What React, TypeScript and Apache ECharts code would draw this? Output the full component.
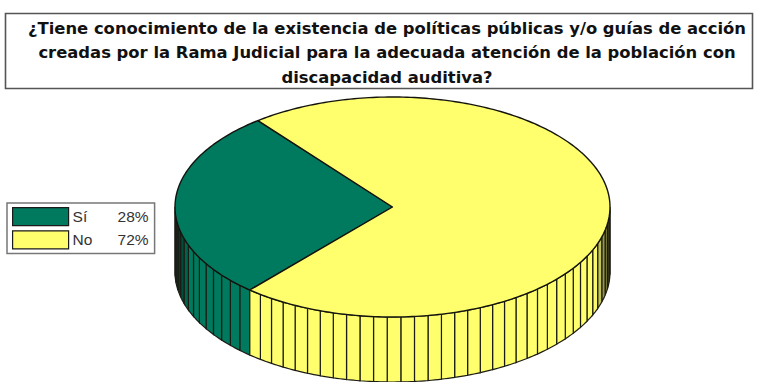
import React, { useEffect, useRef } from "react";
import * as echarts from "echarts";

const categories = ["Sí", "No"];
const shares = [28, 72];
const colors = ["#007A5E", "#FFFF6E"];
const titleLines = [
  "¿Tiene conocimiento de la existencia de políticas públicas y/o guías de acción",
  "creadas por la Rama Judicial para la adecuada atención de la población con",
  "discapacidad auditiva?",
];

// Ellipse of the pie's upper face and the height of its rim.
const CX = 392.5;
const CY = 207;
const RX = 217.5;
const RY = 110;
const DEPTH = 65;
const START_DEG = 131;
const DEG_PER_UNIT = 3.6;

const point = (deg: number, drop = 0): number[] => {
  const r = (deg * Math.PI) / 180;
  return [CX + RX * Math.cos(r), CY + RY * Math.sin(r) + drop];
};

// Darkens a hex colour towards black by the factor k (0..1).
const shade = (hex: string, k: number): string => {
  const n = parseInt(hex.slice(1), 16);
  const ch = (v: number) => Math.round(v * (1 - k));
  return `rgb(${ch((n >> 16) & 255)},${ch((n >> 8) & 255)},${ch(n & 255)})`;
};

// The rim is only seen on the front half of the ellipse, so the angle is
// folded to 0..360 and clipped to 0..180 before a strip is drawn.
const rimStrips = (fromDeg: number, toDeg: number, color: string) => {
  const out: any[] = [];
  const step = DEG_PER_UNIT;
  for (let a = fromDeg; a < toDeg - 1e-6; a += step) {
    const b = Math.min(a + step, toDeg);
    for (const offset of [0, -360]) {
      const lo = Math.max(a + offset, 0);
      const hi = Math.min(b + offset, 180);
      if (hi <= lo) continue;
      const mid = ((lo + hi) / 2) * (Math.PI / 180);
      const edge = Math.abs(Math.cos(mid));
      const k = edge > 0.93 ? Math.min(0.7, ((edge - 0.93) / 0.07) * 0.7) : 0;
      const pts: number[][] = [];
      for (let d = lo; d <= hi + 1e-6; d += (hi - lo) / 4) pts.push(point(d));
      for (let d = hi; d >= lo - 1e-6; d -= (hi - lo) / 4) pts.push(point(d, DEPTH));
      out.push({
        type: "polygon",
        shape: { points: pts },
        style: { fill: shade(color, k), stroke: "#1c1c14", lineWidth: 1.2 },
      });
    }
  }
  return out;
};

const renderSlice = (color: string) => (_params: any, api: any) => {
  const value = api.value(0);
  const before = api.value(1);
  const from = START_DEG + before * DEG_PER_UNIT;
  const to = from + value * DEG_PER_UNIT;
  const face: number[][] = [[CX, CY]];
  for (let d = from; d < to; d += 1) face.push(point(d));
  face.push(point(to));
  return {
    type: "group",
    children: [
      ...rimStrips(from, to, color),
      {
        type: "polygon",
        shape: { points: face },
        style: { fill: color, stroke: "#14140e", lineWidth: 1.4, lineJoin: "round" },
      },
    ],
  };
};

export default function App() {
  const ref = useRef<HTMLDivElement>(null);
  useEffect(() => {
    document.body.style.margin = "0";
    const chart = echarts.init(ref.current!, undefined, { renderer: "svg" });
    let running = 0;
    const series = categories.map((name, i) => {
      const data = [[shares[i], running]];
      running += shares[i];
      return {
        type: "custom",
        name,
        coordinateSystem: "none",
        silent: true,
        itemStyle: { color: colors[i] },
        renderItem: renderSlice(colors[i]),
        data,
      };
    });
    chart.setOption({
      animation: false,
      backgroundColor: "#ffffff",
      title: {
        text: titleLines.join("\n"),
        left: 382,
        top: 11,
        textAlign: "center",
        textStyle: {
          fontFamily: "'DejaVu Sans'",
          fontWeight: "bold",
          fontSize: 16.4,
          lineHeight: 24.5,
          color: "#111111",
        },
      },
      graphic: [
        {
          type: "rect",
          z: -1,
          shape: { x: 5.5, y: 13.5, width: 747, height: 75 },
          style: { fill: "#ffffff", stroke: "#555555", lineWidth: 1.6 },
        },
      ],
      legend: {
        left: 7,
        top: 203,
        orient: "vertical",
        padding: [4, 6, 4, 5],
        itemGap: 4,
        itemWidth: 56,
        itemHeight: 18,
        icon: "rect",
        borderColor: "#777777",
        borderWidth: 1.5,
        backgroundColor: "#ffffff",
        selectedMode: false,
        itemStyle: { borderColor: "#1a1a1a", borderWidth: 1.2 },
        data: categories,
        formatter: (name: string) =>
          `{n|${name}}{v|${shares[categories.indexOf(name)]}%}`,
        textStyle: {
          rich: {
            n: { width: 38, fontFamily: "'Liberation Sans'", fontSize: 15.5, color: "#333333", padding: [0, 0, 0, -1] },
            v: { width: 38, align: "right", fontFamily: "'Liberation Sans'", fontSize: 15.5, color: "#333333" },
          },
        },
      },
      series,
    });
    return () => chart.dispose();
  }, []);
  return <div ref={ref} style={{ width: 758, height: 382 }} />;
}
